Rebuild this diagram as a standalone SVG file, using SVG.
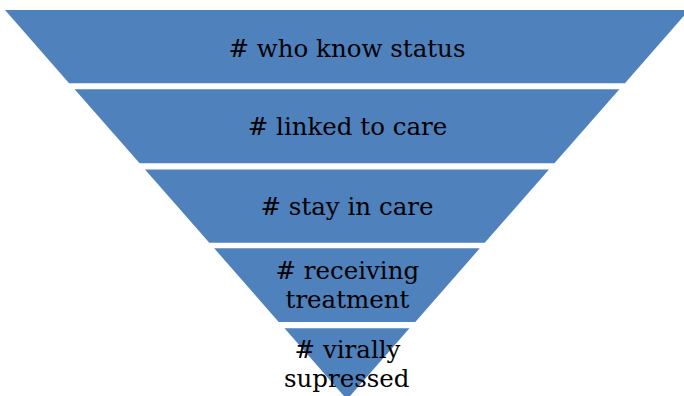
<svg xmlns="http://www.w3.org/2000/svg" width="684" height="396" viewBox="0 0 684 396">
  <style>
    .tier { fill: #4F81BD; }
    .lbl { font-family: "DejaVu Serif", "Liberation Serif", serif; font-size: 24.5px; fill: #000000; text-anchor: middle; }
  </style>
  <rect width="684" height="396" fill="#FFFFFF"/>
  <g id="tier1">
    <polygon class="tier" points="5,10 689,10 624.9,83.3 69.1,83.3"/>
    <text class="lbl" x="347" y="56.5"># who know status</text>
  </g>
  <g id="tier2">
    <polygon class="tier" points="74.6,89.3 619.4,89.3 554.4,163.3 139.6,163.3"/>
    <text class="lbl" x="347.5" y="134.5"># linked to care</text>
  </g>
  <g id="tier3">
    <polygon class="tier" points="145,169.5 549,169.5 484.7,242.7 209.3,242.7"/>
    <text class="lbl" x="347" y="214.5"># stay in care</text>
  </g>
  <g id="tier4">
    <polygon class="tier" points="214.2,248.3 479.8,248.3 415.3,322 278.7,322"/>
    <text class="lbl" x="347.3" y="279.3"># receiving</text>
    <text class="lbl" x="347.5" y="308">treatment</text>
  </g>
  <g id="tier5">
    <polygon class="tier" points="284.5,328.3 409.5,328.3 347,399.5"/>
    <text class="lbl" x="347.5" y="358.3"># virally</text>
    <text class="lbl" x="346.7" y="386.7">supressed</text>
  </g>
  <g id="connectors"/>
</svg>
